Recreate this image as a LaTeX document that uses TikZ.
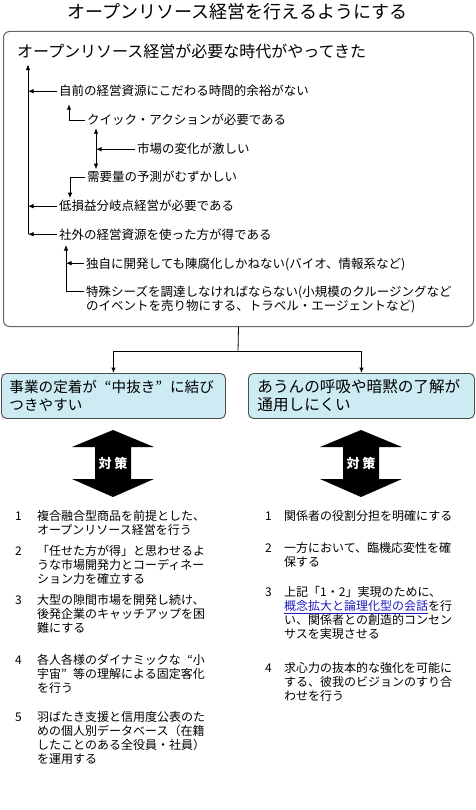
\documentclass[tikz,border=0pt]{standalone}
\usepackage{fontspec}
\setmainfont{Noto Sans CJK JP}
\usetikzlibrary{arrows.meta}
\definecolor{boxblue}{RGB}{205,235,243}
\definecolor{linkblue}{RGB}{30,30,190}
\newcommand{\jqopen}{\makebox[1em][r]{“}}
\newcommand{\jqclose}{\makebox[1em][l]{”}}

\begin{document}
\begin{tikzpicture}[x=1pt, y=-1pt,
  conn/.style={line width=0.8pt},
  arr/.style={conn, -{Latex[length=5.5pt,width=4.5pt]}},
  arrr/.style={conn, {Latex[length=5.5pt,width=4.5pt]}-{Latex[length=5.5pt,width=4.5pt]}},
  lbl/.style={anchor=base west, inner sep=0pt, font=\fontsize{12.5}{14}\selectfont},
  probbox/.style={draw=black!70, line width=0.9pt, fill=boxblue, rounded corners=5pt,
    anchor=north west, minimum height=45pt, inner xsep=8pt, align=left,
    font=\fontsize{15.6}{18}\selectfont},
  num/.style={anchor=base west, inner sep=0pt, font=\fontsize{12}{14}\selectfont},
  entry/.style={num, align=left, text width=190pt},
]
\useasboundingbox (0,0) rectangle (475,810);

\node[anchor=base, inner sep=0pt, font=\fontsize{18}{20}\selectfont] (title) at (237.5,19) {オープンリソース経営を行えるようにする};

% frame round the causes
\node[draw=black!60, line width=1pt, rounded corners=6pt, anchor=north west,
  minimum width=470pt, minimum height=295pt, inner sep=0pt] (frame) at (3,31) {};

\node[lbl, font=\fontsize{16}{18}\selectfont] (hdr) at (17,58) {オープンリソース経営が必要な時代がやってきた};

\node[lbl] (t1) at (59,96) {自前の経営資源にこだわる時間的余裕がない};
\node[lbl] (t2) at (87,125) {クイック・アクションが必要である};
\node[lbl] (t3) at (137,154) {市場の変化が激しい};
\node[lbl] (t4) at (87,182) {需要量の予測がむずかしい};
\node[lbl] (t5) at (59,211) {低損益分岐点経営が必要である};
\node[lbl] (t6) at (59,239) {社外の経営資源を使った方が得である};
\node[lbl] (t7) at (86,268) {独自に開発しても陳腐化しかねない(バイオ、情報系など)};
\node[lbl, align=left, text width=385pt] (t8) at (86,296) {特殊シーズを調達しなければならない(小規模のクルージングなど\\のイベントを売り物にする、トラベル・エージェントなど)};

\foreach \n in {1,...,8}
  \coordinate (a\n) at ([xshift=-2pt,yshift=4.8pt]t\n.base west);

\coordinate (trA) at (28,0);
\coordinate (brB) at (69,0);
\coordinate (brC) at (96,0);
\coordinate (brD) at (70,0);
\coordinate (brE) at (66,0);

% main trunk
\draw[arr] (a1) -- (a1 -| trA);
\draw[arr] (a5) -- (a5 -| trA);
\draw[arr] (a6) -- (a6 -| trA);
\draw[arr, shorten >=5pt] (a6 -| trA) -- (hdr.south west -| trA);

% side branches
\draw[arr, shorten >=7pt] (a2) -| (t1.south -| brB);
\draw[arrr, shorten <=2pt, shorten >=2pt] (t2.south -| brC) -- (t4.north -| brC);
\draw[arr] (a3) -- (a3 -| brC);
\draw[arr, shorten >=2pt] (a4) -| (t5.north -| brD);
\draw[arr] (a7) -- (a7 -| brE);
\draw[arr, shorten >=2pt] (a8) -| ([yshift=-4pt]t6.base -| brE);

% the two problems
\node[probbox, minimum width=224pt, text width=208pt, font=\fontsize{14.6}{18}\selectfont] (pl) at (1,373) {事業の定着が\jqopen 中抜き\jqclose に結び\\つきやすい};
\node[probbox, minimum width=226pt, text width=208pt, inner xsep=9pt] (pr) at (248,373) {あうんの呼吸や暗黙の了解が\\通用しにくい};

\coordinate (split) at (238,351);
\draw[conn] (frame.south) -- (split);
\draw[arr] (split) -| (pl.north);
\draw[arr] (split) -| (pr.north);

% big arrows
\foreach \cx/\nm in {113/1, 361/2} {
  \fill (\cx,430) -- ({\cx+41},447) -- ({\cx+18},447) -- ({\cx+18},479) -- ({\cx+41},479)
    -- (\cx,497) -- ({\cx-41},479) -- ({\cx-18},479) -- ({\cx-18},447) -- ({\cx-41},447) -- cycle;
  \node[text=white, inner sep=0pt, font=\fontsize{13}{13}\selectfont\bfseries] (ta\nm) at (\cx,463.5) {対 策};
}

% left measures
\node[num] (nl1) at (15,520.8) {1};
\node[entry] (il1) at (37,520.8) {複合融合型商品を前提とした、\\オープンリソース経営を行う};
\node[num] (nl2) at (15,555.8) {2};
\node[entry] (il2) at (37,555.8) {「任せた方が得」と思わせるよ\\うな市場開発力とコーディネー\\ション力を確立する};
\node[num] (nl3) at (15,604.8) {3};
\node[entry] (il3) at (37,604.8) {大型の隙間市場を開発し続け、\\後発企業のキャッチアップを困\\難にする};
\node[num] (nl4) at (15,664.8) {4};
\node[entry] (il4) at (37,664.8) {各人各様のダイナミックな\jqopen 小\\宇宙\jqclose 等の理解による固定客化\\を行う};
\node[num] (nl5) at (15,721.8) {5};
\node[entry] (il5) at (37,721.8) {羽ばたき支援と信用度公表のた\\めの個人別データベース（在籍\\したことのある全役員・社員）\\を運用する};

% right measures
\node[num] (nr1) at (265,520.8) {1};
\node[entry] (ir1) at (284,520.8) {関係者の役割分担を明確にする};
\node[num] (nr2) at (265,552.8) {2};
\node[entry] (ir2) at (284,552.8) {一方において、臨機応変性を確\\保する};
\node[num] (nr3) at (265,596.8) {3};
\node[entry] (ir3) at (284,596.8) {上記「1・2」実現のために、\\\textcolor{linkblue}{\underline{概念拡大と論理化型の会話}}を行\\い、関係者との創造的コンセン\\サスを実現させる};
\node[num] (nr4) at (265,672.8) {4};
\node[entry] (ir4) at (284,672.8) {求心力の抜本的な強化を可能に\\する、彼我のビジョンのすり合\\わせを行う};

\end{tikzpicture}
\end{document}
